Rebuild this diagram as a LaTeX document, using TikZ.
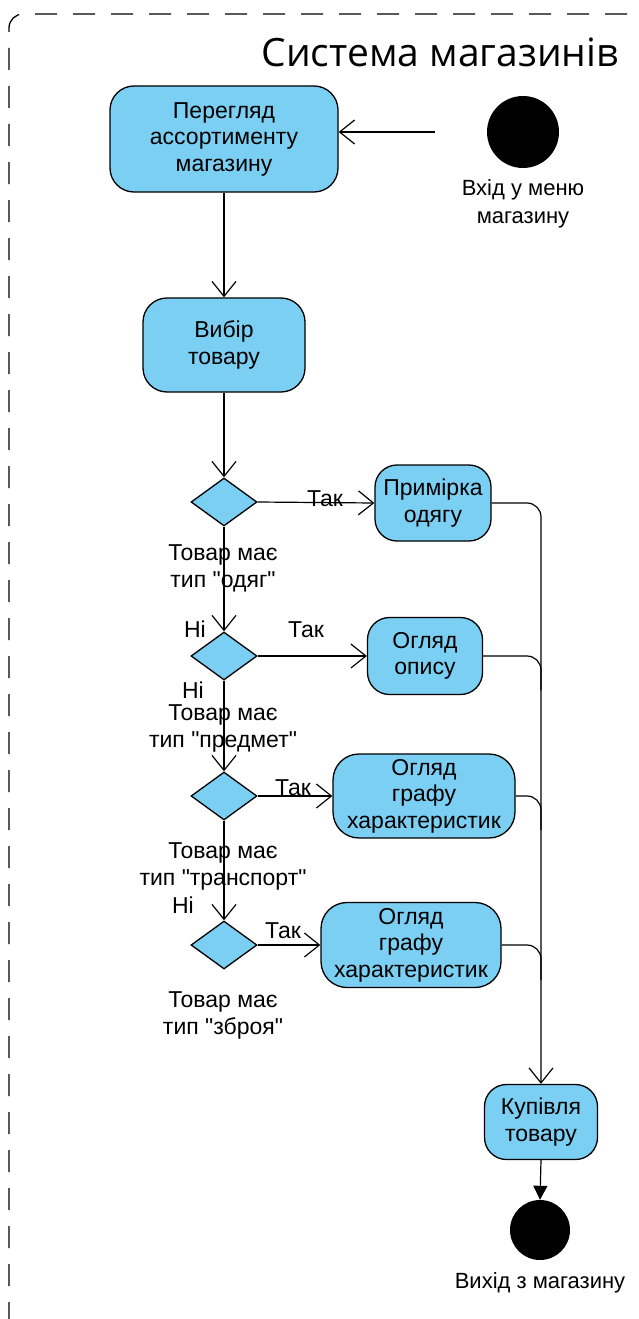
\documentclass[tikz,border=0pt]{standalone}
\usepackage{fontspec}
\setmainfont{Liberation Sans}[Ligatures=TeXOff]
\newfontfamily\labelfont{Liberation Sans}
\newfontfamily\titlefont{Open Sans}
\usetikzlibrary{arrows.meta,shapes.geometric}
\definecolor{actfill}{HTML}{7ACFF2}
\tikzset{
  x=1pt, y=-1pt,
  act/.style={draw=black, line width=1.3pt, fill=actfill, rounded corners=24pt,
    align=center, inner sep=0pt, font=\labelfont\fontsize{23}{26.5}\selectfont},
  decide/.style={draw=black, line width=1.3pt, fill=actfill, diamond, aspect=1.4,
    minimum width=66pt, minimum height=48pt, inner sep=0pt},
  dot/.style={circle, fill=black, inner sep=0pt},
  lbl/.style={align=center, inner sep=0pt, font=\labelfont\fontsize{23}{27}\selectfont},
  flow/.style={line width=1.2pt, -{Straight Barb[length=15pt,width=24pt,line width=1.2pt]}},
  flowend/.style={line width=1.2pt, -{Triangle[length=14pt,width=14pt]}},
  merge/.style={line width=1.2pt, rounded corners=14pt},
}
\begin{document}
\begin{tikzpicture}
\useasboundingbox (0,0) rectangle (638,1319);
\begin{scope}
\clip (0,0) rectangle (638,1319);
\draw[line width=1.3pt, dash pattern=on 22pt off 16pt, rounded corners=14pt]
  (9,1400) -- (9,14) -- (645,14) -- (645,1400);
\end{scope}
\node[font=\titlefont\fontsize{39}{42}\selectfont, anchor=center] (title) at (440,52) {Система магазинів};

% activities
\node[act, minimum width=228pt, minimum height=106pt] (browse) at (224,139) {Перегляд\\ассортименту\\магазину};
\node[act, minimum width=162pt, minimum height=94pt] (pick) at (224,345) {Вибір\\товару};
\node[act, minimum width=116pt, minimum height=76pt, rounded corners=22pt] (fit) at (433,503) {Примірка\\одягу};
\node[act, minimum width=115pt, minimum height=77pt, rounded corners=22pt] (desc) at (425,656) {Огляд\\опису};
\node[act, minimum width=182pt, minimum height=84pt, rounded corners=26pt] (specA) at (424,796) {Огляд\\графу\\характеристик};
\node[act, minimum width=180pt, minimum height=85pt, rounded corners=26pt] (specB) at (411,945) {Огляд\\графу\\характеристик};
\node[act, minimum width=113pt, minimum height=75pt, rounded corners=22pt] (buy) at (541,1122) {Купівля\\товару};

% start / end
\node[dot, minimum size=72pt] (start) at (523,132) {};
\node[lbl, font=\labelfont\fontsize{22}{28}\selectfont] (startlbl) at (523,204) {Вхід у меню\\магазину};
\node[dot, minimum size=60pt] (stop) at (540,1230) {};
\node[lbl, font=\labelfont\fontsize{22}{28}\selectfont] (stoplbl) at (540,1283) {Вихід з магазину};
\coordinate (entry) at (435,132);

% decisions
\node[decide] (d1) at (224,502) {};
\node[decide] (d2) at (224,656) {};
\node[decide] (d3) at (224,796) {};
\node[decide] (d4) at (224,945) {};

% flows
\draw[flow] (entry) -- (browse.east |- entry);
\draw[flow] (browse.south) -- (pick.north);
\draw[flow] (pick.south) -- (d1.north);
\draw[flow] (d1.east) -- (fit.west);
\draw[flow] (d1.south) -- (d2.north);
\draw[flow] (d2.east) -- (desc.west);
\draw[flow] (d2.south) -- (d3.north);
\draw[flow] (d3.east) -- (specA.west);
\draw[flow] (d3.south) -- (d4.north);
\draw[flow] (d4.east) -- (specB.west);

% merge into purchase
\coordinate (j2) at (541,690);
\coordinate (j3) at (541,830);
\coordinate (j4) at (541,980);
\draw[merge, flow] (fit.east) -| (buy.north);
\draw[merge] (desc.east) -| (j2);
\draw[merge] (specA.east) -| (j3);
\draw[merge] (specB.east) -| (j4);
\draw[flowend] (buy.south) -- (stop.north);

% guard labels
\node[lbl] (y1) at (325,499) {Так};
\node[lbl] (y2) at (306,630) {Так};
\node[lbl] (y3) at (293,788) {Так};
\node[lbl] (y4) at (283,931) {Так};
\node[lbl] (n2) at (195,629) {Ні};
\node[lbl] (n3) at (193,690) {Ні};
\node[lbl] (n4) at (183,905) {Ні};
\node[lbl] (c1) at (223,568) {Товар має\\тип "одяг"};
\node[lbl] (c2) at (223,728) {Товар має\\тип "предмет"};
\node[lbl] (c3) at (223,866) {Товар має\\тип "транспорт"};
\node[lbl] (c4) at (223,1015) {Товар має\\тип "зброя"};
\end{tikzpicture}
\end{document}
